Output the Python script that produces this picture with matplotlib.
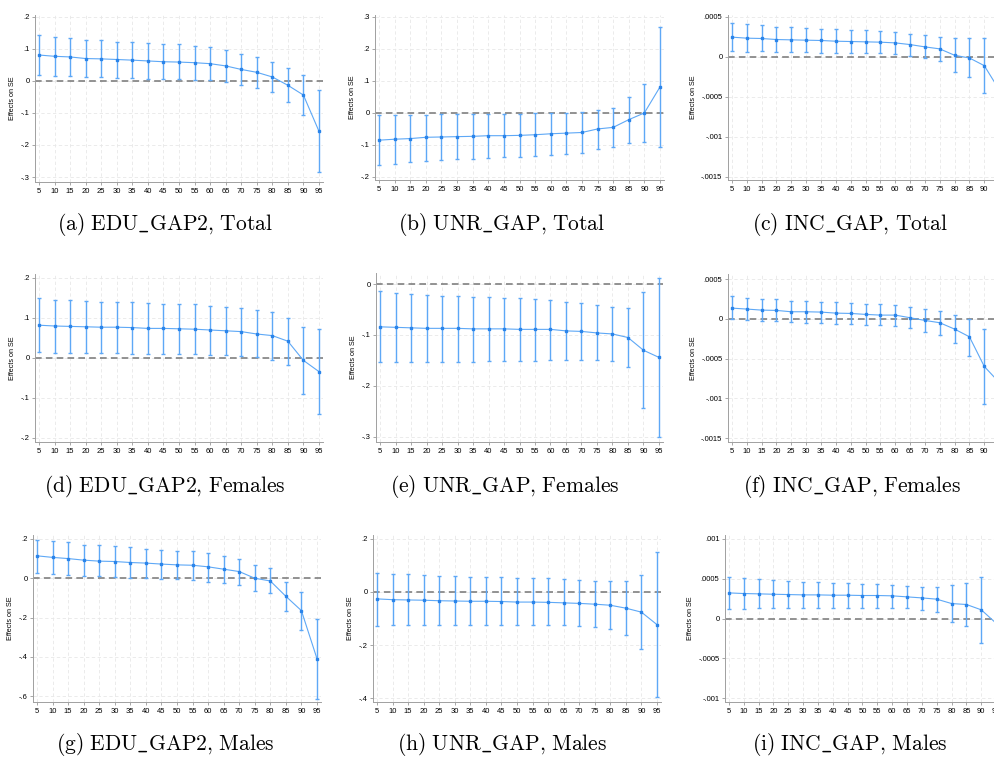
import matplotlib
matplotlib.use("Agg")
import matplotlib.pyplot as plt
from matplotlib.ticker import FixedLocator

plt.rcParams["mathtext.fontset"] = "cm"
plt.rcParams["font.family"] = ["Liberation Sans", "DejaVu Sans"]

QUANTILES = [5, 10, 15, 20, 25, 30, 35, 40, 45, 50, 55, 60, 65, 70, 75, 80, 85, 90, 95]

# (a) EDU_GAP2, Total
edu_tot = [.081, .077, .075, .070, .069, .067, .065, .0625, .060, .059, .057, .054, .047, .036, .027, .0125, -.0135, -.044, -.157]
edu_tot_hi = [.144, .136, .133, .127, .127, .123, .121, .118, .116, .115, .110, .105, .097, .085, .074, .059, .040, .020, -.029]
edu_tot_lo = [.019, .016, .016, .0125, .0125, .009, .008, .006, .006, .005, .003, .002, -.003, -.0125, -.021, -.034, -.066, -.107, -.284]

# (b) UNR_GAP, Total
unr_tot = [-.085, -.082, -.080, -.076, -.075, -.074, -.073, -.071, -.071, -.070, -.068, -.065, -.063, -.061, -.050, -.045, -.021, .000, .081]
unr_tot_hi = [-.005, -.005, -.005, -.005, -.004, -.004, -.003, -.002, -.002, -.002, -.001, .000, .000, .004, .010, .017, .050, .092, .268]
unr_tot_lo = [-.162, -.158, -.154, -.150, -.146, -.145, -.143, -.140, -.139, -.137, -.134, -.131, -.128, -.124, -.112, -.107, -.093, -.090, -.105]

# (c) INC_GAP, Total
inc_tot = [.000248, .000235, .000231, .000218, .000214, .000210, .000206, .000197, .000193, .000189, .000185, .000176, .000155, .000126, .000101, .000021, -.000013, -.000109, -.00041]
inc_tot_hi = [.00042, .000408, .000395, .000374, .00037, .000357, .000353, .000345, .000332, .000332, .00032, .000311, .00029, .000269, .000252, .000231, .000231, .000231, .0001]
inc_tot_lo = [.000076, .000067, .000071, .000063, .000059, .000059, .000055, .00005, .000046, .000046, .000046, .000034, .000017, -.000017, -.000055, -.000193, -.000256, -.000454, -.0009]

# (d) EDU_GAP2, Females
edu_fem = [.082, .080, .079, .078, .077, .077, .076, .074, .074, .073, .072, .070, .068, .066, .060, .056, .042, -.006, -.034]
edu_fem_hi = [.149, .144, .144, .142, .140, .139, .139, .138, .136, .134, .134, .131, .128, .126, .119, .114, .101, .078, .073]
edu_fem_lo = [.016, .013, .013, .013, .0125, .012, .011, .011, .011, .010, .009, .008, .007, .006, .002, -.004, -.018, -.090, -.141]

# (e) UNR_GAP, Females
unr_fem = [-.084, -.085, -.086, -.087, -.087, -.087, -.088, -.088, -.088, -.089, -.089, -.089, -.092, -.093, -.096, -.098, -.105, -.130, -.144]
unr_fem_hi = [-.014, -.018, -.020, -.022, -.024, -.024, -.025, -.026, -.028, -.028, -.030, -.032, -.035, -.037, -.042, -.045, -.047, -.016, .012]
unr_fem_lo = [-.154, -.154, -.154, -.153, -.153, -.153, -.153, -.152, -.151, -.151, -.151, -.150, -.150, -.149, -.150, -.151, -.163, -.244, -.301]

# (f) INC_GAP, Females
inc_fem = [.000134, .000122, .000109, .000105, .000088, .000088, .000084, .000071, .000067, .000055, .000046, .000046, .000013, -.000021, -.00005, -.00013, -.000227, -.0006, -.0008]
inc_fem_hi = [.000282, .00026, .000244, .000244, .000223, .000223, .000206, .000206, .000193, .000185, .000185, .000172, .000143, .000118, .000092, .000046, .0, -.00013, -.0003]
inc_fem_lo = [-.000004, -.000013, -.000025, -.000034, -.000046, -.000055, -.000055, -.000063, -.000067, -.00008, -.00008, -.000092, -.000122, -.000164, -.000202, -.000311, -.000466, -.00107, -.0013]

# (g) EDU_GAP2, Males
edu_mal = [.114, .106, .100, .092, .087, .085, .080, .077, .072, .068, .066, .058, .046, .034, .000, -.014, -.092, -.165, -.409]
edu_mal_hi = [.197, .189, .182, .169, .167, .162, .157, .148, .143, .140, .138, .128, .111, .100, .065, .050, -.017, -.068, -.208]
edu_mal_lo = [.026, .020, .014, .009, .009, .005, .003, .000, -.005, -.005, -.010, -.017, -.026, -.034, -.063, -.077, -.168, -.266, -.613]

# (h) UNR_GAP, Males
unr_mal = [-.026, -.029, -.030, -.031, -.033, -.034, -.035, -.035, -.036, -.038, -.038, -.039, -.041, -.043, -.046, -.050, -.061, -.076, -.123]
unr_mal_hi = [.070, .066, .066, .063, .061, .059, .058, .055, .055, .054, .053, .051, .049, .045, .041, .040, .043, .063, .149]
unr_mal_lo = [-.127, -.125, -.125, -.125, -.124, -.124, -.124, -.124, -.124, -.124, -.124, -.124, -.125, -.127, -.132, -.139, -.164, -.216, -.396]

# (i) INC_GAP, Males
inc_mal = [.000322, .000314, .00031, .000305, .000301, .000297, .000297, .000293, .000293, .000289, .000289, .000285, .000272, .000259, .000243, .000188, .000176, .000109, -.00006]
inc_mal_hi = [.000519, .000506, .000494, .000481, .000469, .00046, .000456, .000448, .000444, .000439, .000431, .000427, .000406, .000393, .000393, .00042, .000444, .000519, .0004]
inc_mal_lo = [.000121, .000121, .000126, .00013, .00013, .00013, .00013, .00013, .00013, .00013, .00013, .00013, .000126, .000109, .00008, -.000042, -.000096, -.000305, -.0005]

CAPTIONS = [
    r"$\mathrm{(a)\ EDU\_GAP2{,}\ Total}$", r"$\mathrm{(b)\ UNR\_GAP{,}\ Total}$", r"$\mathrm{(c)\ INC\_GAP{,}\ Total}$",
    r"$\mathrm{(d)\ EDU\_GAP2{,}\ Females}$", r"$\mathrm{(e)\ UNR\_GAP{,}\ Females}$", r"$\mathrm{(f)\ INC\_GAP{,}\ Females}$",
    r"$\mathrm{(g)\ EDU\_GAP2{,}\ Males}$", r"$\mathrm{(h)\ UNR\_GAP{,}\ Males}$", r"$\mathrm{(i)\ INC\_GAP{,}\ Males}$",
]

YTICKS = [
    ([.2, .1, 0, -.1, -.2, -.3], [".2", ".1", "0", "-.1", "-.2", "-.3"]),
    ([.3, .2, .1, 0, -.1, -.2], [".3", ".2", ".1", "0", "-.1", "-.2"]),
    ([.0005, 0, -.0005, -.001, -.0015], [".0005", "0", "-.0005", "-.001", "-.0015"]),
    ([.2, .1, 0, -.1, -.2], [".2", ".1", "0", "-.1", "-.2"]),
    ([0, -.1, -.2, -.3], ["0", "-.1", "-.2", "-.3"]),
    ([.0005, 0, -.0005, -.001, -.0015], [".0005", "0", "-.0005", "-.001", "-.0015"]),
    ([.2, 0, -.2, -.4, -.6], [".2", "0", "-.2", "-.4", "-.6"]),
    ([.2, 0, -.2, -.4], [".2", "0", "-.2", "-.4"]),
    ([.001, .0005, 0, -.0005, -.001], [".001", ".0005", "0", "-.0005", "-.001"]),
]

SERIES = [
    (edu_tot, edu_tot_lo, edu_tot_hi), (unr_tot, unr_tot_lo, unr_tot_hi), (inc_tot, inc_tot_lo, inc_tot_hi),
    (edu_fem, edu_fem_lo, edu_fem_hi), (unr_fem, unr_fem_lo, unr_fem_hi), (inc_fem, inc_fem_lo, inc_fem_hi),
    (edu_mal, edu_mal_lo, edu_mal_hi), (unr_mal, unr_mal_lo, unr_mal_hi), (inc_mal, inc_mal_lo, inc_mal_hi),
]

W, H = 995, 758

# pixel geometry of each panel: left, right, top, bottom (px), ylim
PANELS = [
    (35, 323, 15, 182, (-.3156, .206)),
    (375, 664, 15, 180, (-.2094, .306)),
    (728, 1003, 15, 180, (-.00154, .000525)),
    (35, 323, 274, 442, (-.21, .21)),
    (376, 663, 273, 442, (-.31, .0216)),
    (728, 1003, 274, 442, (-.00155, .000563)),
    (33, 321, 535, 702, (-.63, .22)),
    (373, 661, 535, 702, (-.415, .215)),
    (725, 1000, 535, 702, (-.00105, .00105)),
]
CAP_POS = [(165, 224), (502, 224), (850, 224),
           (165, 487), (505, 487), (852, 487),
           (165, 745), (502, 745), (850, 745)]

LINE_C = "#5ea8f6"
MARK_C = "#2a84ea"

fig = plt.figure(figsize=(W / 100, H / 100), dpi=100)

for i, (l, r, t, b, ylim) in enumerate(PANELS):
    ax = fig.add_axes([l / W, 1 - b / H, (r - l) / W, (b - t) / H])
    mean, lo, hi = SERIES[i]
    ax.vlines(QUANTILES, lo, hi, color=LINE_C, lw=1.0, zorder=3)
    ax.plot(QUANTILES, lo, ls="none", marker="_", ms=3.0, mew=1.0, color=LINE_C, zorder=3)
    ax.plot(QUANTILES, hi, ls="none", marker="_", ms=3.0, mew=1.0, color=LINE_C, zorder=3)
    ax.plot(QUANTILES, mean, color=LINE_C, lw=0.8, zorder=4)
    ax.plot(QUANTILES, mean, ls="none", marker="s", ms=1.8, color=MARK_C, zorder=5)
    ax.axhline(0, color="#808080", lw=1.2, ls=(0, (4, 2.5)), zorder=2)

    ax.set_xlim(3.7, 96.3)
    ax.set_ylim(*ylim)
    ax.xaxis.set_major_locator(FixedLocator(QUANTILES))
    ax.set_xticklabels([str(q) for q in QUANTILES])
    yt, yl = YTICKS[i]
    ax.set_yticks(yt)
    ax.set_yticklabels(yl)
    ax.tick_params(labelsize=5.5, length=2.5, width=0.6, color="#999999", pad=1.5)
    ax.grid(True, color="#e8e8e8", lw=0.6, ls=(0, (4, 3)), zorder=0)
    for s in ["top", "right"]:
        ax.spines[s].set_visible(False)
    for s in ["left", "bottom"]:
        ax.spines[s].set_color("#a0a0a0")
        ax.spines[s].set_linewidth(0.7)
    ax.set_ylabel("Effects on SE", fontsize=5.2, labelpad=3)

    cx, cy = CAP_POS[i]
    fig.text(cx / W, 1 - cy / H, CAPTIONS[i], ha="center", va="center", fontsize=15.5)

fig.savefig("out.png", dpi=100, facecolor="white")
